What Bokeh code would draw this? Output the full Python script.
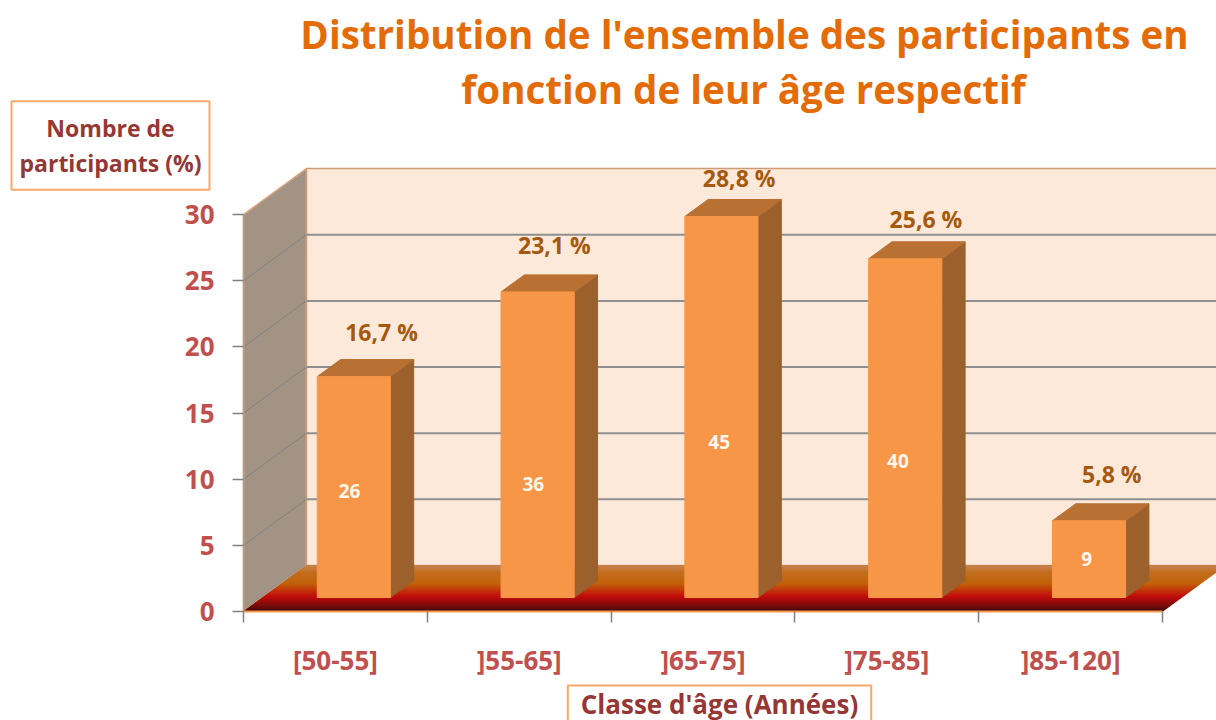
from bokeh.plotting import figure
from bokeh.embed import file_html
from bokeh.resources import INLINE
from bokeh.core.properties import value
from bokeh.models import Label, FixedTicker, Range1d
import numpy as np

title_lines = ["Distribution  de l'ensemble des participants en", "fonction de leur âge respectif"]
categories = ["[50-55]", "]55-65]", "]65-75]", "]75-85]", "]85-120]"]
percent = [16.7, 23.1, 28.8, 25.6, 5.8]
percent_labels = ["16,7 %", "23,1 %", "28,8 %", "25,6 %", "5,8 %"]
counts = [26, 36, 45, 40, 9]
y_ticks = [0, 5, 10, 15, 20, 25, 30]
y_title = "Nombre de\nparticipants (%)"
x_title = "Classe d'âge (Années)"

W, H = 1216, 720
FONT = "Open Sans"
AX_L, AX_B = 243, 611              # pixel of the axes' corner
PX_X, PX_Y = 183.8, 13.23          # pixels per category, per percent
DX, DY = 63 / PX_X, 46 / PX_Y      # depth of the 3D box in data units
F0, F1 = 14 / 46, 31 / 46          # depth fraction of bar front, bar back
BL, BR = 0.297, 0.695              # bar extent inside a category

p = figure(width=W, height=H, output_backend="svg", toolbar_location=None,
           x_range=Range1d(-AX_L / PX_X, (W - AX_L) / PX_X),
           y_range=Range1d(-(H - AX_B) / PX_Y, AX_B / PX_Y),
           min_border_left=0, min_border_right=0, min_border_top=0, min_border_bottom=0,
           background_fill_color="white", outline_line_color=None)
p.grid.visible = False

n = len(categories)
xend = n + DX
p.patch([0, DX, DX, 0], [0, DY, 30 + DY, 30], fill_color="#a39385", line_color="#d9a679", line_width=1.5)
p.patch([DX, xend, xend, DX], [DY, DY, 30 + DY, 30 + DY], fill_color="#fde9d9", line_color="#cf9c78", line_width=1.5)
gl = y_ticks[1:-1]
p.segment([0] * len(gl), gl, [DX] * len(gl), [v + DY for v in gl], line_color="#7f8484", line_width=1)
p.segment([DX] * len(gl), [v + DY for v in gl], [xend] * len(gl), [v + DY for v in gl],
          line_color="#8f8f8f", line_width=2)

stops_t = [0.0, 0.09, 0.33, 0.42, 0.62, 0.85, 1.0]
stops_c = np.array([(40, 0, 0), (96, 0, 0), (192, 0, 0), (192, 30, 0), (192, 92, 0), (192, 104, 20), (196, 125, 70)], float)
N = 46
xs, ys, cols = [], [], []
for k in range(N):
    a, b = k / N, (k + 1) / N
    c = [int(np.interp((a + b) / 2, stops_t, stops_c[:, j])) for j in range(3)]
    xs.append([a * DX, n + a * DX, n + b * DX, b * DX])
    ys.append([a * DY, a * DY, b * DY, b * DY])
    cols.append("#%02x%02x%02x" % tuple(c))
p.patches(xs, ys, fill_color=cols, line_color=cols, line_width=0.6)

for i, v in enumerate(percent):
    l, r = i + BL + F0 * DX, i + BR + F0 * DX
    b0, t0 = F0 * DY, F0 * DY + v
    ddx, ddy = (F1 - F0) * DX, (F1 - F0) * DY
    p.patch([r, r + ddx, r + ddx, r], [b0, b0 + ddy, t0 + ddy, t0], fill_color="#9b602c", line_color="#9b602c")
    p.patch([l, r, r + ddx, l + ddx], [t0, t0, t0 + ddy, t0 + ddy], fill_color="#b97033", line_color="#b97033")
    p.patch([l, r, r, l], [b0, b0, t0, t0], fill_color="#f79646", line_color="#f79646")

xc = [i + 0.5 + F0 * DX for i in range(n)]
p.text(xc, [v + F0 * DY for v in percent], text=percent_labels,
       x_offset=[27, 16, 17, 20, 22], y_offset=[-45, -47, -38, -40, -47],
       text_font=value(FONT), text_font_style="bold", text_font_size="23px",
       text_color="#a5590f", text_align="center", text_baseline="middle")
p.text(xc, [v / 2 + F0 * DY for v in percent], text=[str(c) for c in counts],
       x_offset=[-5, -5, -3, -8, -3], y_offset=[4, 39, 35, 33, 0],
       text_font=value(FONT), text_font_style="bold", text_font_size="19px",
       text_color="#fff6ee", text_align="center", text_baseline="middle")

ya = p.yaxis[0]
ya.fixed_location = 0
ya.ticker = FixedTicker(ticks=y_ticks)
ya.bounds = (0, 30)
ya.axis_line_color = "#b8a088"
ya.axis_line_width = 1.5
ya.major_tick_line_color = "#808080"
ya.major_tick_line_width = 1.5
ya.major_tick_in = 0
ya.major_tick_out = 11
ya.minor_tick_out = 0
ya.minor_tick_in = 0
ya.major_label_standoff = 18
ya.major_label_text_font = FONT
ya.major_label_text_font_style = "bold"
ya.major_label_text_font_size = "26px"
ya.major_label_text_color = "#c0504d"

xa = p.xaxis[0]
xa.fixed_location = 0
xa.ticker = FixedTicker(ticks=[i + 0.5 for i in range(n)], minor_ticks=list(range(n + 1)))
xa.major_label_overrides = {i + 0.5: c for i, c in enumerate(categories)}
xa.bounds = (0, n)
xa.axis_line_color = "#f79646"
xa.axis_line_width = 2
xa.major_tick_in = 0
xa.major_tick_out = 0
xa.minor_tick_in = 0
xa.minor_tick_out = 11
xa.minor_tick_line_color = "#808080"
xa.minor_tick_line_width = 1.5
xa.major_label_standoff = 19
xa.major_label_text_font = FONT
xa.major_label_text_font_style = "bold"
xa.major_label_text_font_size = "26px"
xa.major_label_text_color = "#c0504d"


def data_at(px, py):
    return dict(x=(px - AX_L) / PX_X, y=(AX_B - py) / PX_Y)


for txt, cx, cy in [(title_lines[0], 749, 33), (title_lines[1], 743, 88)]:
    p.add_layout(Label(text=txt, text_font=FONT, text_font_style="bold", text_font_size="38.6px",
                       text_color="#e36c09", text_align="center", text_baseline="middle", **data_at(cx, cy)))

p.add_layout(Label(text=y_title, text_font=FONT, text_font_style="bold", text_font_size="23px",
                   text_color="#953735", text_align="center", text_baseline="middle",
                   text_line_height=1.08, border_line_color="#f9a868", border_line_width=2, padding=(8, 11),
                   background_fill_color="white", **data_at(110, 145)))
p.add_layout(Label(text=x_title, text_font=FONT, text_font_style="bold", text_font_size="26px",
                   text_color="#953735", text_align="center", text_baseline="middle",
                   border_line_color="#f9a868", border_line_width=2, padding=(13, 0),
                   background_fill_color="white", **data_at(719, 703)))

open("out.html", "w").write(file_html(p, INLINE))
